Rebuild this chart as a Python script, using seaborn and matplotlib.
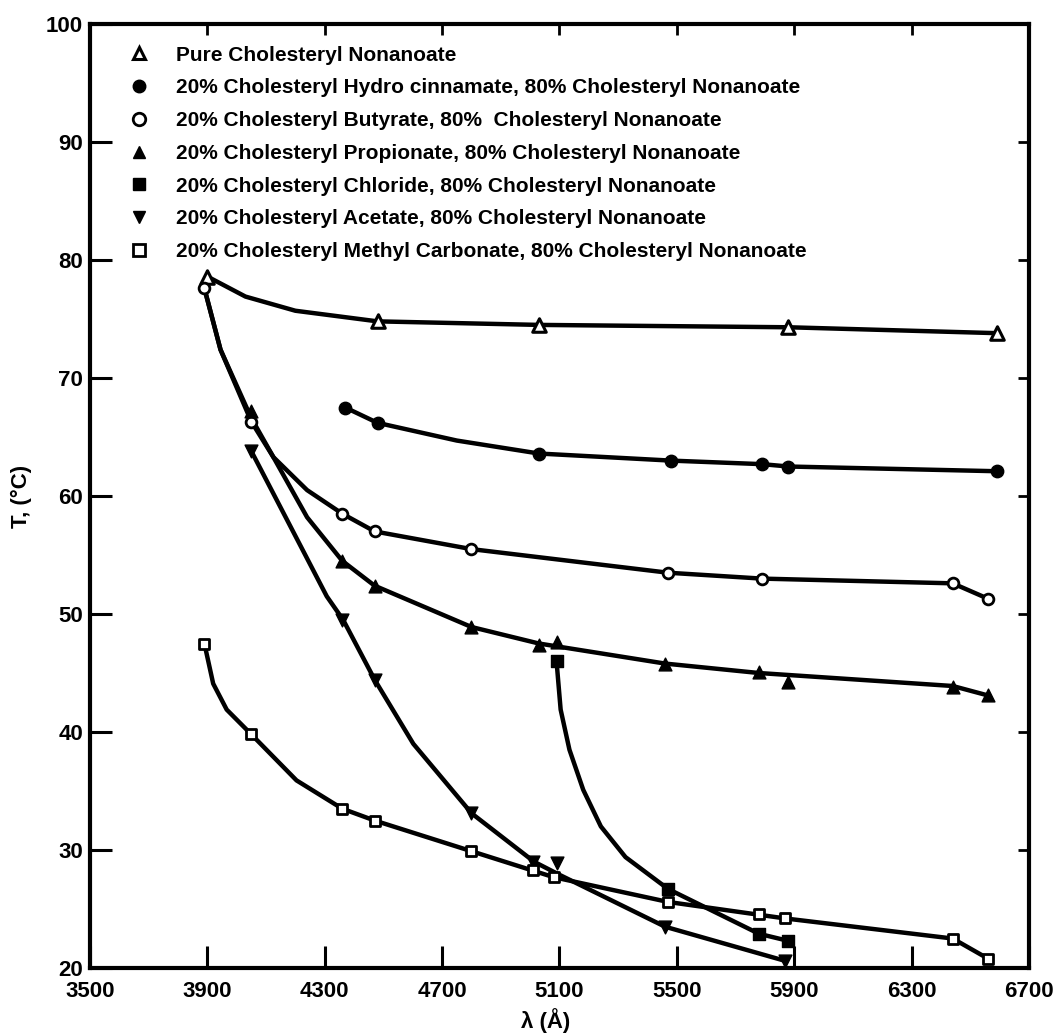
import matplotlib
matplotlib.use('Agg')
import matplotlib.pyplot as plt
import seaborn as sns
import pandas as pd
from matplotlib.lines import Line2D

# ---------------- data ----------------
labels = [
    "Pure Cholesteryl Nonanoate",
    "20% Cholesteryl Hydro cinnamate, 80% Cholesteryl Nonanoate",
    "20% Cholesteryl Butyrate, 80%  Cholesteryl Nonanoate",
    "20% Cholesteryl Propionate, 80% Cholesteryl Nonanoate",
    "20% Cholesteryl Chloride, 80% Cholesteryl Nonanoate",
    "20% Cholesteryl Acetate, 80% Cholesteryl Nonanoate",
    "20% Cholesteryl Methyl Carbonate, 80% Cholesteryl Nonanoate",
]

# measured points (markers)
pure_lam = [3900, 4480, 5030, 5880, 6590]
pure_T = [78.6, 74.8, 74.5, 74.3, 73.8]
hydro_lam = [4370, 4480, 5030, 5480, 5790, 5880, 6590]
hydro_T = [67.5, 66.2, 63.6, 63.0, 62.7, 62.5, 62.1]
buty_lam = [3890, 4050, 4360, 4470, 4800, 5470, 5790, 6440, 6560]
buty_T = [77.6, 66.3, 58.5, 57.0, 55.5, 53.5, 53.0, 52.6, 51.3]
prop_lam = [4050, 4360, 4470, 4800, 5030, 5090, 5460, 5780, 5880, 6440, 6560]
prop_T = [67.2, 54.5, 52.4, 48.9, 47.4, 47.6, 45.8, 45.1, 44.2, 43.8, 43.1]
chlo_lam = [5090, 5470, 5780, 5880]
chlo_T = [46.0, 26.7, 22.9, 22.3]
acet_lam = [4050, 4360, 4470, 4800, 5010, 5090, 5460, 5870]
acet_T = [63.8, 49.5, 44.4, 33.1, 29.0, 28.9, 23.5, 20.6]
meth_lam = [3890, 4050, 4360, 4470, 4800, 5010, 5080, 5470, 5780, 5870, 6440, 6560]
meth_T = [47.5, 39.8, 33.5, 32.5, 29.9, 28.3, 27.7, 25.6, 24.6, 24.2, 22.5, 20.8]

# drawn curves
pure_curve_lam = [3900, 4030, 4200, 4480, 5030, 5880, 6590]
pure_curve_T = [78.6, 76.9, 75.7, 74.8, 74.5, 74.3, 73.8]
hydro_curve_lam = [4370, 4480, 4750, 5030, 5480, 5790, 5880, 6590]
hydro_curve_T = [67.5, 66.2, 64.7, 63.6, 63.0, 62.7, 62.5, 62.1]
buty_curve_lam = [3890, 3945, 4050, 4125, 4240, 4360, 4470, 4800, 5470, 5790, 6440, 6560]
buty_curve_T = [77.6, 72.4, 66.3, 63.3, 60.5, 58.5, 57.0, 55.5, 53.5, 53.0, 52.6, 51.3]
prop_curve_lam = [3890, 3945, 4050, 4125, 4240, 4360, 4470, 4800, 5030, 5460, 5780, 6440, 6560]
prop_curve_T = [77.6, 72.4, 66.6, 63.3, 58.2, 54.5, 52.4, 48.9, 47.5, 45.8, 45.0, 43.9, 43.1]
chlo_curve_lam = [5090, 5104, 5134, 5181, 5241, 5325, 5470, 5780, 5880]
chlo_curve_T = [46.0, 41.9, 38.5, 35.1, 32.0, 29.4, 26.7, 22.9, 22.3]
acet_curve_lam = [4050, 4307, 4363, 4471, 4602, 4801, 5014, 5100, 5460, 5870]
acet_curve_T = [63.8, 51.5, 49.5, 44.4, 39.0, 33.1, 29.0, 27.9, 23.5, 20.6]
meth_curve_lam = [3890, 3920, 3966, 4050, 4204, 4360, 4470, 4800, 5080, 5470, 5870, 6440, 6560]
meth_curve_T = [47.5, 44.1, 41.9, 39.8, 35.9, 33.5, 32.5, 29.9, 27.7, 25.6, 24.2, 22.5, 20.8]

x_ticks = [3500, 3900, 4300, 4700, 5100, 5500, 5900, 6300, 6700]
y_ticks = [20, 30, 40, 50, 60, 70, 80, 90, 100]

# ---------------- styling ----------------
sns.set_theme(style='ticks')
plt.rcParams['font.family'] = ['Liberation Sans', 'DejaVu Sans']
plt.rcParams['font.weight'] = 'bold'
plt.rcParams['text.color'] = 'black'
plt.rcParams['axes.labelcolor'] = 'black'
plt.rcParams['xtick.color'] = 'black'
plt.rcParams['ytick.color'] = 'black'

points = [
    (pure_lam, pure_T, '^', 'white', 95, 2.2),
    (hydro_lam, hydro_T, 'o', 'black', 80, 1.0),
    (buty_lam, buty_T, 'o', 'white', 60, 2.0),
    (prop_lam, prop_T, '^', 'black', 85, 1.0),
    (chlo_lam, chlo_T, 's', 'black', 65, 1.0),
    (acet_lam, acet_T, 'v', 'black', 85, 1.0),
    (meth_lam, meth_T, 's', 'white', 55, 2.0),
]
curves = [
    (pure_curve_lam, pure_curve_T), (hydro_curve_lam, hydro_curve_T),
    (buty_curve_lam, buty_curve_T), (prop_curve_lam, prop_curve_T),
    (chlo_curve_lam, chlo_curve_T), (acet_curve_lam, acet_curve_T),
    (meth_curve_lam, meth_curve_T),
]

rows = []
for lab, (lx, ty) in zip(labels, curves):
    for a, b in zip(lx, ty):
        rows.append({'lam': a, 'T': b, 'series': lab})
curve_df = pd.DataFrame(rows)

fig = plt.figure(figsize=(10.58, 10.34), dpi=100)
ax = fig.add_axes([0.085, 0.0638, 0.8876, 0.913])

sns.lineplot(data=curve_df, x='lam', y='T', units='series', estimator=None,
             sort=False, color='black', lw=3.2, ax=ax, legend=False)

for (lx, ty, mk, fc, s, lw) in points:
    sns.scatterplot(x=lx, y=ty, marker=mk, s=s, facecolor=fc, edgecolor='black',
                    linewidth=lw, ax=ax, zorder=5, legend=False)

ax.set_xlim(3500, 6700)
ax.set_ylim(20, 100)
ax.set_xticks(x_ticks)
ax.set_yticks(y_ticks)
ax.set_xticklabels([str(v) for v in x_ticks], fontsize=16, fontweight='bold')
ax.set_yticklabels([str(v) for v in y_ticks], fontsize=16, fontweight='bold')
ax.tick_params(axis='x', direction='in', length=16, width=2.2, pad=9)
ax.tick_params(axis='y', direction='in', length=16, width=2.2, pad=5)
for sp in ax.spines.values():
    sp.set_linewidth(3)
    sp.set_color('black')

secx = ax.secondary_xaxis('top')
secx.set_xticks(x_ticks)
secx.set_xticklabels([])
secx.tick_params(direction='in', length=8, width=2)
secy = ax.secondary_yaxis('right')
secy.set_yticks(y_ticks)
secy.set_yticklabels([])
secy.tick_params(direction='in', length=8, width=2)

ax.set_xlabel('λ (Å)', fontsize=16, fontweight='bold')
ax.set_ylabel('T, (°C)', fontsize=16, fontweight='bold')
ax.xaxis.set_label_coords(0.485, -0.042)
ax.yaxis.set_label_coords(-0.062, 0.5)

handles = [Line2D([], [], linestyle='none', marker=mk, markersize=9,
                  markerfacecolor=fc, markeredgecolor='black', markeredgewidth=lw)
           for (_, _, mk, fc, s, lw) in points]
leg = ax.legend(handles, labels, loc='upper left', bbox_to_anchor=(0.01, 0.997),
                frameon=False, handletextpad=0.8, labelspacing=0.66,
                prop={'size': 15, 'weight': 'bold'})

fig.savefig('out.png', dpi=100, facecolor='white')
